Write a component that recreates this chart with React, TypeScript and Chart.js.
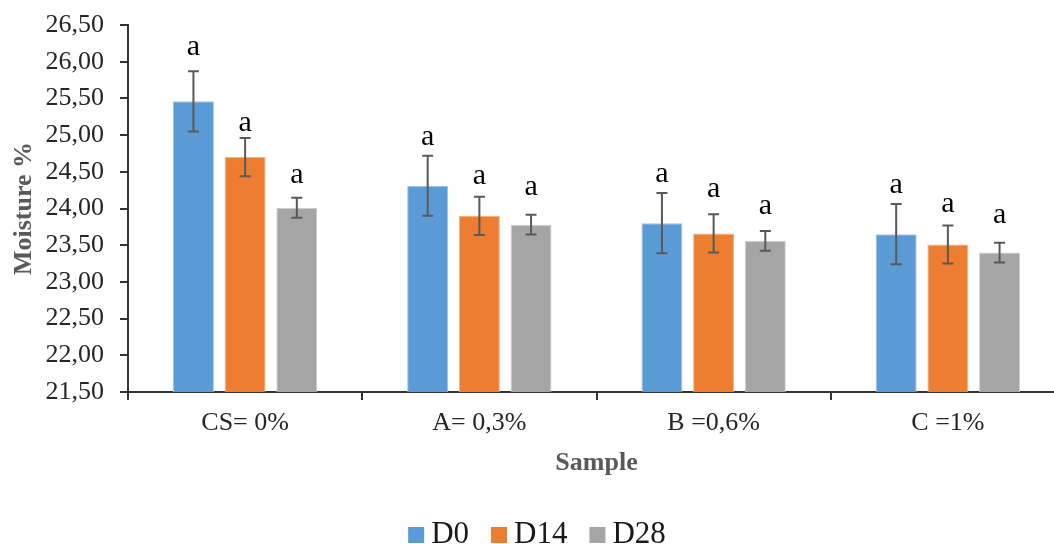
import React, { useEffect, useRef } from "react";
import { Chart, registerables } from "chart.js";

Chart.register(...registerables);

// Sample groups on the x axis
const categories = ["CS= 0%", "A= 0,3%", "B =0,6%", "C =1%"];

// Mean moisture (%) per storage day
const seriesNames = ["D0", "D14", "D28"];
const moistureD0 = [25.46, 24.31, 23.8, 23.65];
const moistureD14 = [24.7, 23.9, 23.66, 23.51];
const moistureD28 = [24.01, 23.78, 23.56, 23.4];

// Standard deviation per storage day
const errD0 = [0.41, 0.41, 0.41, 0.41];
const errD14 = [0.26, 0.26, 0.26, 0.26];
const errD28 = [0.135, 0.135, 0.135, 0.135];

// Significance letters above each bar
const lettersD0 = ["a", "a", "a", "a"];
const lettersD14 = ["a", "a", "a", "a"];
const lettersD28 = ["a", "a", "a", "a"];

// Y axis range and tick step
const yMin = 21.5;
const yMax = 26.5;
const yStep = 0.5;

// Styling
const fillColors = ["#5B9BD5", "#ED7D31", "#A5A5A5"];
const edgeColors = ["#9DC3E6", "#F4B183", "#CFCFCF"];
const serif = "'Liberation Serif', 'Times New Roman', serif";
// pixel lift of each letter above its error-bar cap
const letterLift = [
  [16, 11, 11, 11],
  [7, 13, 17, 13],
  [15, 20, 17, 20],
];

const W = 1074;
const H = 560;

const errorBarPlugin = {
  id: "errorBars",
  afterDatasetsDraw(chart: any) {
    const { ctx } = chart;
    const yScale = chart.scales.y;
    chart.data.datasets.forEach((ds: any, di: number) => {
      const meta = chart.getDatasetMeta(di);
      meta.data.forEach((bar: any, i: number) => {
        const v = ds.data[i];
        const e = ds.errors[i];
        const yTop = yScale.getPixelForValue(v + e);
        const yBot = yScale.getPixelForValue(v - e);
        const x = bar.x;
        ctx.save();
        ctx.strokeStyle = "#595959";
        ctx.lineWidth = 2;
        ctx.beginPath();
        ctx.moveTo(x, yTop);
        ctx.lineTo(x, yBot);
        ctx.moveTo(x - 5.5, yTop);
        ctx.lineTo(x + 5.5, yTop);
        ctx.moveTo(x - 5.5, yBot);
        ctx.lineTo(x + 5.5, yBot);
        ctx.stroke();
        ctx.fillStyle = "#000000";
        ctx.font = `30px ${serif}`;
        ctx.textAlign = "center";
        ctx.textBaseline = "alphabetic";
        ctx.fillText(ds.letters[i], x, yTop - letterLift[di][i]);
        ctx.restore();
      });
    });
  },
};

const legendPlugin = {
  id: "bottomLegend",
  afterDraw(chart: any) {
    const { ctx } = chart;
    const box = 16;
    const gapText = 7;
    const gapItem = 22;
    ctx.save();
    ctx.font = `31px ${serif}`;
    const items = chart.data.datasets.map((ds: any) => ({
      label: ds.label,
      color: ds.backgroundColor,
      w: ctx.measureText(ds.label).width,
    }));
    let total = 0;
    items.forEach((it: any, i: number) => {
      total += box + gapText + it.w + (i < items.length - 1 ? gapItem : 0);
    });
    let x = chart.width / 2 - total / 2;
    const baseline = 543;
    items.forEach((it: any) => {
      ctx.fillStyle = it.color;
      ctx.fillRect(x, 527, box, box);
      ctx.fillStyle = "#1a1a1a";
      ctx.textAlign = "left";
      ctx.textBaseline = "alphabetic";
      ctx.fillText(it.label, x + box + gapText, baseline);
      x += box + gapText + it.w + gapItem;
    });
    ctx.restore();
  },
};

export default function App() {
  const ref = useRef<HTMLCanvasElement>(null);

  useEffect(() => {
    if (!ref.current) return;
    const values = [moistureD0, moistureD14, moistureD28];
    const errors = [errD0, errD14, errD28];
    const letters = [lettersD0, lettersD14, lettersD28];
    const chart = new Chart(ref.current, {
      type: "bar",
      data: {
        labels: categories,
        datasets: seriesNames.map((name, i) => ({
          label: name,
          data: values[i],
          errors: errors[i],
          letters: letters[i],
          backgroundColor: fillColors[i],
          borderColor: edgeColors[i],
          borderWidth: 1,
          categoryPercentage: 0.662,
          barPercentage: 0.793,
        })) as any,
      },
      options: {
        animation: false,
        responsive: false,
        devicePixelRatio: 1,
        layout: { padding: { left: 0, top: 25, right: 9, bottom: 78 } },
        plugins: {
          legend: { display: false },
          tooltip: { enabled: false },
        },
        scales: {
          x: {
            afterFit(scale: any) {
              scale.height = 90;
            },
            grid: {
              drawOnChartArea: false,
              drawTicks: true,
              tickLength: 8,
              color: "#333333",
              lineWidth: 2,
            },
            border: { display: true, color: "#333333", width: 2 },
            ticks: {
              color: "#262626",
              font: { family: serif, size: 26 },
              padding: 8,
            },
            title: {
              display: true,
              text: "Sample",
              color: "#595959",
              font: { family: serif, size: 26, weight: "bold" },
              padding: { top: 0, bottom: 3 },
            },
          },
          y: {
            min: yMin,
            max: yMax,
            afterFit(scale: any) {
              scale.width = 128;
              scale.paddingTop = 0;
              scale.paddingBottom = 0;
            },
            grid: {
              drawOnChartArea: false,
              drawTicks: true,
              tickLength: 8,
              color: "#333333",
              lineWidth: 2,
            },
            border: { display: true, color: "#333333", width: 2 },
            ticks: {
              stepSize: yStep,
              color: "#262626",
              font: { family: serif, size: 26 },
              padding: 16,
              callback: (v: any) => Number(v).toFixed(2).replace(".", ","),
            },
            title: {
              display: true,
              text: "Moisture %",
              color: "#595959",
              font: { family: serif, size: 26, weight: "bold" },
              padding: { top: 9, bottom: 0 },
            },
          },
        },
      },
      plugins: [errorBarPlugin, legendPlugin],
    });
    return () => chart.destroy();
  }, []);

  return (
    <div
      style={{
        position: "fixed",
        left: 0,
        top: 0,
        width: 1054,
        height: 544,
        overflow: "hidden",
        background: "#ffffff",
      }}
    >
      <canvas ref={ref} width={W} height={H} style={{ display: "block" }} />
    </div>
  );
}
